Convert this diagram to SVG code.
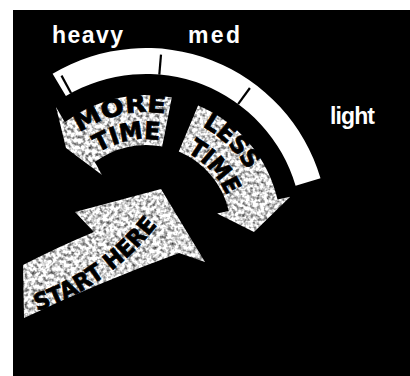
<svg xmlns="http://www.w3.org/2000/svg" width="410" height="376" viewBox="0 0 410 376">
<defs>
<filter id="mottle" x="0" y="0" width="100%" height="100%" color-interpolation-filters="sRGB">
<feTurbulence type="fractalNoise" baseFrequency="0.28" numOctaves="2" seed="7" result="n"/>
<feColorMatrix in="n" type="matrix" values="1.7 0 0 0 0  1.7 0 0 0 0  1.7 0 0 0 0  0 0 0 0 1" result="g"/>
<feComposite in="g" in2="SourceGraphic" operator="in"/>
</filter>
<path id="pMore" d="M 75.0 135.8 A 118 118 0 0 1 170.5 114.6"/>
<path id="pTime1" d="M 91.2 157.3 A 91 91 0 0 1 168.0 141.7"/>
<path id="pLess" d="M 182.5 117.8 A 118 118 0 0 1 256.9 189.6"/>
<path id="pTime2" d="M 177.0 147.9 A 87.5 87.5 0 0 1 230.2 205.9"/>
<path id="pStart" d="M 30 313 Q 108 290 162 219"/>
</defs>
<style>
.lbl{font-family:"Liberation Sans",Arial,sans-serif;font-weight:bold;font-size:23px;fill:#fff}
.arr{fill:#c8c8c8;filter:url(#mottle)}
.atx{font-family:"DejaVu Sans","Liberation Sans",sans-serif;font-weight:bold;fill:#000;stroke:#000;stroke-width:0.8;text-anchor:middle}
.tick{stroke:#000;stroke-width:2.2;fill:none}
</style>
<rect x="0" y="0" width="410" height="376" fill="#fff"/>
<rect x="13" y="10" width="397" height="366" fill="#000"/>
<g id="gauge">
<path d="M 52.6 73.8 A 182 182 0 0 1 320.5 178.3 L 295.6 185.7 A 156 156 0 0 0 65.9 96.1 Z" fill="#fff"/>
<line class="tick" x1="61.5" y1="75.6" x2="71.1" y2="93.2"/>
<line class="tick" x1="161.0" y1="54.6" x2="159.3" y2="74.6"/>
<line class="tick" x1="249.9" y1="88.0" x2="238.1" y2="104.1"/>
</g>
<g id="labels">
<text class="lbl" x="52" y="43" textLength="71" lengthAdjust="spacing">heavy</text>
<text class="lbl" x="188" y="43" textLength="52" lengthAdjust="spacing">med</text>
<text class="lbl" x="330" y="124" textLength="45" lengthAdjust="spacing">light</text>
</g>
<g id="more-time">
<path class="arr" d="M 171.8 97.5 A 135 135 0 0 0 64.8 122.2 L 56 107 L 66 148 L 102 175 L 94.8 162.1 A 85 85 0 0 1 162.2 146.6 Z"/>
<text class="atx" font-size="24"><textPath href="#pMore" startOffset="50%" textLength="90" lengthAdjust="spacingAndGlyphs">MORE</textPath></text>
<text class="atx" font-size="24"><textPath href="#pTime1" startOffset="50%" textLength="64" lengthAdjust="spacingAndGlyphs">TIME</textPath></text>
</g>
<g id="less-time">
<path class="arr" d="M 198.1 105.5 A 135 135 0 0 1 277.5 199.6 L 290.2 196.7 L 254.0 231.9 L 217.1 213.6 L 228.8 210.9 A 85 85 0 0 0 178.8 151.6 Z"/>
<text class="atx" font-size="24"><textPath href="#pLess" startOffset="50%" textLength="64" lengthAdjust="spacingAndGlyphs">LESS</textPath></text>
<text class="atx" font-size="24"><textPath href="#pTime2" startOffset="50%" textLength="60" lengthAdjust="spacingAndGlyphs">TIME</textPath></text>
</g>
<g id="start-here">
<path class="arr" d="M 23 265 Q 60 246 94 232 L 75 212 L 161 189 L 205 262 L 179 253 Q 100 282 24 318 Z"/>
<text class="atx" font-size="23"><textPath href="#pStart" startOffset="50%" textLength="150" lengthAdjust="spacingAndGlyphs">START HERE</textPath></text>
</g>
</svg>
